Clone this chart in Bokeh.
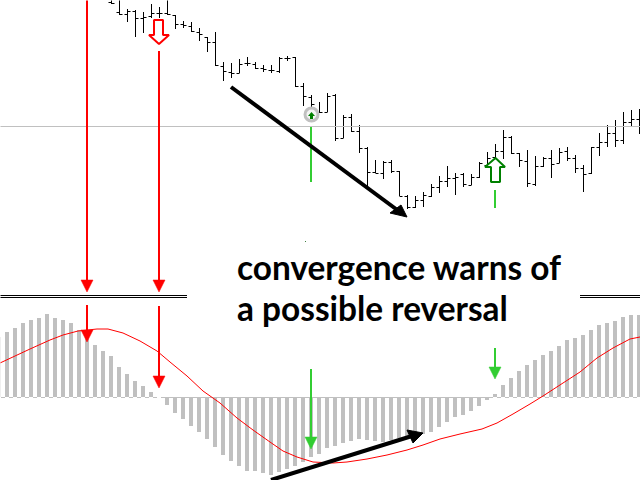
import numpy as np
from bokeh.embed import file_html
from bokeh.resources import INLINE
from bokeh.plotting import figure
from bokeh.models import Range1d
from bokeh.core.properties import value

# Histogram (oscillator) values, one per bar, spaced 8 apart starting at -1
hist = [60,65,69,74,77,79,83,79,77,74,67,61,52,46,41,30,23,16,11,5,0,-8,-16,-22,-29,-35,-42,-50,
        -58,-64,-69,-74,-74,-76,-78,-75,-72,-69,-65,-60,-57,-51,-49,-46,-44,-42,-43,-44,-45,-43,
        -41,-40,-38,-37,-35,-30,-25,-20,-18,-14,-9,-3,3,12,19,26,32,37,42,46,51,57,59,62,67,72,
        74,76,80,82,82]

# Signal line
sig_x = [0,30,50,63,78,97,108,123,140,157,170,187,203,220,237,253,270,283,297,313,333,347,367,387,407,423,440,460,482,497,513,530,543,563,580,597,613,630,640]
sig_y = [34,48,57,62,66,68,68,64,56,46,35,21,6,-6,-21,-33,-45,-54,-60,-65,-66,-65,-62,-58,-53,-48,-42,-37,-32,-26,-17,-7,1,14,25,39,49,58,60]

# OHLC price bars, on an inverted scale, starting at x=111
p_high = [-5,-5,9,10,12,4,7,-2,15,21,22,28,37,32,62,63,59,57,62,65,65,57,56,57,83,95,102,93,94,115,114,125,147,160,161,160,171,195,196,192,184,176,166,173,173,174,162,152,144,130,136,153,150,156,157,150,148,147,155,165,147,133,125,120,112,110,109]
p_low  = [4,15,22,37,33,18,18,15,29,28,32,41,52,66,81,78,73,66,69,72,73,73,61,87,106,107,113,112,141,138,132,153,187,173,179,173,196,209,208,207,197,193,187,195,187,185,178,167,160,159,154,167,187,186,167,178,163,161,173,192,174,156,147,147,144,127,134]
p_open = [2,12,14,11,18,16,13,13,15,24,26,32,37,42,66,72,73,63,64,68,70,71,58,57,86,97,112,112,95,138,117,131,148,172,173,162,171,196,207,200,196,187,181,178,174,185,177,165,157,151,137,153,161,184,166,158,163,151,158,168,173,147,142,133,140,122,119]
p_close= [3,14,11,18,17,13,13,14,24,25,31,34,42,65,71,73,64,63,68,69,70,58,58,86,96,104,112,96,138,117,131,148,172,173,162,171,196,207,200,195,187,181,178,177,184,177,163,158,151,137,153,160,183,166,158,164,152,158,168,174,147,142,133,140,122,119,120]

level = 126
gray = "#c0c0c0"
red = "#ff0000"
lime = "#32cd32"

p = figure(width=640, height=480, x_range=Range1d(0.5, 640.5), y_range=Range1d(-83.5, 396.5),
           output_backend="svg", toolbar_location=None, min_border=0,
           outline_line_color=None, background_fill_color="white", border_fill_color="white")
p.axis.visible = False
p.grid.visible = False
p.extra_y_ranges = {"px": Range1d(480.5, 0.5)}

# histogram
hx = -1 + 8 * np.arange(len(hist))
p.vbar(x=hx, top=hist, bottom=0, width=4, fill_color=gray, line_color=None)
p.line(x=[1, 640], y=[-0.5, -0.5], line_color=gray, line_width=1, line_dash="4 4")
p.line(x=sig_x, y=sig_y, line_color=red, line_width=1)

# price
bx = 111.5 + 8 * np.arange(len(p_high))
h = np.array(p_high, float); l = np.array(p_low, float)
o = np.array(p_open, float) + .5; c = np.array(p_close, float) + .5
p.segment(x0=bx, y0=h, x1=bx, y1=l, line_color="black", line_width=1, y_range_name="px")
p.segment(x0=bx - 3, y0=o, x1=bx, y1=o, line_color="black", line_width=1, y_range_name="px")
p.segment(x0=bx, y0=c, x1=bx + 3, y1=c, line_color="black", line_width=1, y_range_name="px")
p.line(x=[0, 640], y=[level + .5] * 2, line_color=gray, line_width=1, y_range_name="px")

# separators
for yy in (295.5, 297.5):
    p.line(x=[0, 187], y=[yy, yy], line_color="black", line_width=1, y_range_name="px")
    p.line(x=[580, 640], y=[yy, yy], line_color="black", line_width=1, y_range_name="px")

def down_arrow(x, y0, y1, color, hw=6, hl=12):
    p.line(x=[x, x], y=[y0, y1], line_color=color, line_width=2, y_range_name="px")
    p.patch(x=[x - hw, x + hw, x], y=[y1, y1, y1 + hl], fill_color=color, line_color=color,
            line_width=0.5, y_range_name="px")

down_arrow(87, 0, 280, red)
down_arrow(159, 51, 280, red)
down_arrow(87, 305, 330, red)
down_arrow(159, 306, 376, red)
down_arrow(311, 369, 437, lime)
down_arrow(495, 348, 367, lime)
p.line(x=[311, 311], y=[127, 182], line_color=lime, line_width=2, y_range_name="px")
p.line(x=[495, 495], y=[190, 208], line_color=lime, line_width=2, y_range_name="px")

# hollow arrows
p.patch(x=[154, 163, 163, 169, 159, 149, 154], y=[20, 20, 35, 35, 44, 35, 35], fill_color="white",
        line_color=red, line_width=2, y_range_name="px")
p.patch(x=[491, 500, 500, 505, 495.5, 485, 491], y=[182, 182, 167, 167, 158, 167, 167], fill_color="white",
        line_color="#008000", line_width=2, y_range_name="px")

# circle marker
p.scatter(x=[311.5], y=[114.5], size=13, marker="circle", fill_color="#f4f4f4", line_color="#c0c0c0",
          line_width=3, y_range_name="px")
p.patch(x=[308, 311.5, 315, 313, 313, 310, 310], y=[116, 112, 116, 116, 119, 119, 116], fill_color="#008000",
        line_color=None, y_range_name="px")
# stray dot
p.scatter(x=[305.5], y=[241.5], size=1, marker="square", fill_color="#408040", line_color=None, y_range_name="px")

# black arrows
p.line(x=[231, 400], y=[87, 212], line_color="black", line_width=4, y_range_name="px")
p.patch(x=[407, 390, 401], y=[217, 213, 205], fill_color="black", line_color="black", line_width=1, y_range_name="px")
p.line(x=[271, 412], y=[480, 436], line_color="black", line_width=4, y_range_name="px")
p.patch(x=[423, 407, 413], y=[433, 430, 443], fill_color="black", line_color="black", line_width=1, y_range_name="px")

# labels
p.text(x=[237, 237], y=[267, 308], text=["convergence warns of", "a possible reversal"],
       text_font=value("Lato"), text_font_style="bold", text_font_size="33.4px", text_color="black",
       text_baseline="alphabetic", y_range_name="px")

open("out.html", "w").write(file_html(p, INLINE))
